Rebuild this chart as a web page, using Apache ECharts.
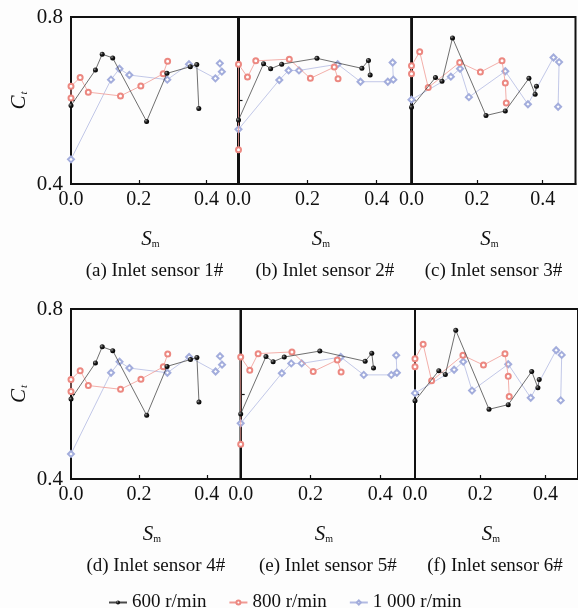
<!DOCTYPE html>
<html>
<head>
<meta charset="utf-8">
<script src="https://cdn.jsdelivr.net/npm/echarts@6/dist/echarts.min.js"></script>
<style>html,body{margin:0;padding:0;background:#fdfdfd;}#c{width:578px;height:608px;}</style>
</head>
<body>
<div id="c"></div>
<script>
// ---- Data (S_m, C_t) ----
var s1_600 = [[0,0.588],[0.072,0.673],[0.092,0.711],[0.123,0.702],[0.223,0.550],[0.283,0.665],[0.352,0.681],[0.371,0.686],[0.377,0.581]];
var s1_800 = [[0,0.606],[0,0.634],[0.027,0.655],[0.051,0.620],[0.146,0.611],[0.206,0.635],[0.272,0.664],[0.285,0.694]];
var s1_1000 = [[0,0.459],[0.118,0.650],[0.143,0.676],[0.172,0.661],[0.284,0.650],[0.348,0.687],[0.426,0.653],[0.445,0.669],[0.439,0.689]];

var s2_600 = [[0,0.553],[0.0725,0.688],[0.093,0.676],[0.125,0.687],[0.227,0.701],[0.357,0.677],[0.376,0.696],[0.381,0.661]];
var s2_800 = [[0,0.482],[0,0.687],[0.026,0.656],[0.050,0.695],[0.147,0.699],[0.208,0.653],[0.277,0.680],[0.288,0.652]];
var s2_1000 = [[0,0.531],[0.118,0.649],[0.145,0.672],[0.175,0.672],[0.287,0.687],[0.353,0.645],[0.432,0.645],[0.448,0.650],[0.446,0.691]];

var s3_600 = [[0,0.584],[0.073,0.655],[0.093,0.646],[0.125,0.750],[0.227,0.564],[0.286,0.575],[0.358,0.653],[0.377,0.615],[0.381,0.634]];
var s3_800 = [[0,0.664],[0,0.683],[0.025,0.717],[0.051,0.631],[0.147,0.691],[0.210,0.668],[0.276,0.695],[0.286,0.642],[0.289,0.594]];
var s3_1000 = [[0,0.602],[0.120,0.657],[0.148,0.676],[0.175,0.608],[0.286,0.670],[0.355,0.591],[0.433,0.703],[0.450,0.692],[0.447,0.585]];

// sensors 4-6 (same curves as 1-3 in the figure)
var s4_600 = s1_600, s4_800 = s1_800, s4_1000 = s1_1000;
var s5_600 = s2_600, s5_800 = s2_800, s5_1000 = s2_1000;
var s6_600 = s3_600, s6_800 = s3_800, s6_1000 = s3_1000;

var seriesNames = ['600 r/min', '800 r/min', '1 000 r/min'];
var captions = ['(a) Inlet sensor 1#', '(b) Inlet sensor 2#', '(c) Inlet sensor 3#',
                '(d) Inlet sensor 4#', '(e) Inlet sensor 5#', '(f) Inlet sensor 6#'];
var xLabelValues = [0, 0.2, 0.4];
var yLabelValues = [0.4, 0.8];
var yMin = 0.4, yMax = 0.8;

var panelData = [
  [s1_600, s1_800, s1_1000], [s2_600, s2_800, s2_1000], [s3_600, s3_800, s3_1000],
  [s4_600, s4_800, s4_1000], [s5_600, s5_800, s5_1000], [s6_600, s6_800, s6_1000]
];

// ---- Layout ----
var FONT = 'Liberation Serif';
var panels = [
  {left: 71,    top: 17,  width: 167,   height: 167, xmax: 0.4926},
  {left: 238.5, top: 17,  width: 172.8, height: 167, xmax: 0.5},
  {left: 411.5, top: 17,  width: 164,   height: 167, xmax: 0.5},
  {left: 71,    top: 309, width: 169.7, height: 170, xmax: 0.5},
  {left: 240.7, top: 309, width: 174.3, height: 170, xmax: 0.5},
  {left: 415,   top: 309, width: 166,   height: 170, xmax: 0.5}
];
var lineColors = ['#4a4a4a', '#f09a94', '#b2bae2'];
var markColors = ['#111111', '#ec8881', '#a3addc'];
var blackBall = {type: 'radial', x: 0.35, y: 0.35, r: 0.65,
  colorStops: [{offset: 0, color: '#9a9a9a'}, {offset: 0.45, color: '#222'}, {offset: 1, color: '#000'}]};

var grids = [], xAxes = [], yAxes = [], series = [], graphics = [];
panels.forEach(function (p, i) {
  grids.push({left: p.left, top: p.top, width: p.width, height: p.height,
    show: true, borderColor: '#111', borderWidth: 2, backgroundColor: 'transparent', containLabel: false});
  xAxes.push({type: 'value', gridIndex: i, min: 0, max: p.xmax, interval: 0.1,
    splitLine: {show: false},
    axisLine: {show: true, onZero: false, lineStyle: {color: '#111', width: 2}},
    axisTick: {show: true, inside: true, length: 4, customValues: [0.2, 0.4], lineStyle: {color: '#111', width: 1.2}},
    axisLabel: {show: true, customValues: xLabelValues, margin: 6, color: '#111',
      fontFamily: FONT, fontSize: 20, formatter: function (v) { return v.toFixed(1); }}
  });
  var firstCol = (i % 3 === 0);
  yAxes.push({type: 'value', gridIndex: i, min: yMin, max: yMax, interval: 0.1,
    splitLine: {show: false},
    axisLine: {show: true, onZero: false, lineStyle: {color: '#111', width: 2}},
    axisTick: {show: true, inside: true, length: 4, customValues: [0.6], lineStyle: {color: '#111', width: 1.2}},
    axisLabel: {show: firstCol, customValues: yLabelValues, margin: 8, color: '#111',
      fontFamily: FONT, fontSize: 21, formatter: function (v) { return v.toFixed(1); }},
    name: firstCol ? '{c|C}{t|t}' : '', nameLocation: 'middle', nameRotate: 90, nameGap: 41,
    nameTextStyle: {rich: {
      c: {fontFamily: FONT, fontStyle: 'italic', fontSize: 21, color: '#111'},
      t: {fontFamily: FONT, fontStyle: 'italic', fontSize: 11, color: '#111', verticalAlign: 'bottom', padding: [10, 0, 0, 1]}
    }}
  });
  var sym = ['circle', 'emptyCircle', 'emptyDiamond'];
  var sz = [5, 5, 6];
  panelData[i].forEach(function (d, k) {
    series.push({type: 'line', name: seriesNames[k], xAxisIndex: i, yAxisIndex: i, data: d,
      symbol: sym[k], symbolSize: sz[k], showAllSymbol: true, animation: false,
      lineStyle: {color: lineColors[k], width: 0.8},
      itemStyle: {color: k === 0 ? blackBall : markColors[k], borderColor: markColors[k], borderWidth: k === 0 ? 0 : 0.7},
      emphasis: {disabled: true}, z: 3 - k});
  });
  var cx = p.left + (i === 5 ? 80 : p.width / 2);
  var sY = p.top + p.height + 55;
  var capY = p.top + p.height + 87;
  graphics.push({type: 'text', x: cx - 4, y: sY, style: {
    text: '{s|S}{m|m}', textAlign: 'center', textVerticalAlign: 'middle',
    rich: {s: {fontFamily: FONT, fontStyle: 'italic', fontSize: 21, fill: '#111'},
           m: {fontFamily: FONT, fontSize: 10, fill: '#111', padding: [10, 0, 0, 0]}}
  }});
  graphics.push({type: 'text', x: cx, y: capY, style: {
    text: captions[i], textAlign: 'center', textVerticalAlign: 'middle',
    fontFamily: FONT, fontSize: 19, fill: '#111'
  }});
});

var chart = echarts.init(document.getElementById('c'), null, {renderer: 'canvas'});
chart.setOption({
  backgroundColor: '#fdfdfd',
  animation: false,
  grid: grids, xAxis: xAxes, yAxis: yAxes, series: series,
  legend: {data: seriesNames, left: 103, top: 588, itemWidth: 18, itemHeight: 5, itemGap: 22,
    textStyle: {fontFamily: FONT, fontSize: 19, color: '#111'}},
  graphic: graphics
});
</script>
</body>
</html>
